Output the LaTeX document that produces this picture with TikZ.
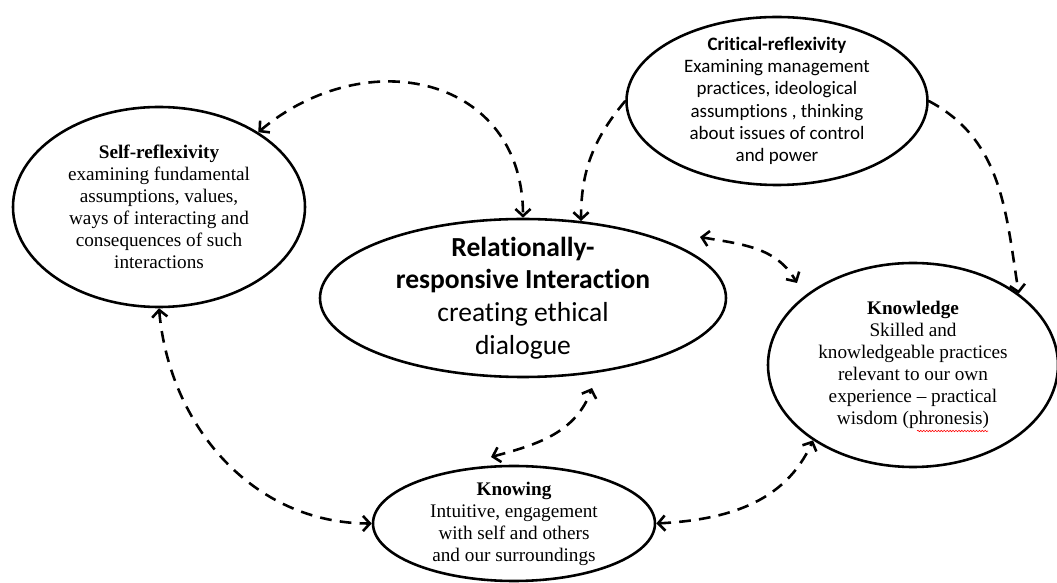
\documentclass[tikz,border=0pt]{standalone}
\usepackage{fontspec}
\setmainfont{Liberation Serif}[Ligatures=NoCommon]
\newfontfamily\calibri{Carlito}[Ligatures=NoCommon]
\usetikzlibrary{shapes}
\usetikzlibrary{positioning}
\usetikzlibrary{arrows.meta}
\usetikzlibrary{decorations.pathmorphing}

\begin{document}
\begin{tikzpicture}[
	line width=2.2pt,
	>={Straight Barb[length=6pt,width=13pt]}
]
\tikzset{
    bubble/.style = {ellipse, draw=black, inner sep=0pt},
    sertext/.style = {align=center, font=\fontsize{16.4}{18.8}\selectfont},
    caltext/.style = {align=center, font=\calibri\fontsize{16.2}{19}\selectfont},
    bigtext/.style = {align=center, font=\calibri\fontsize{23.5}{28}\selectfont},
    link/.style = {dash pattern=on 10pt off 7pt, line width=2.2pt},
    spell/.style = {red, line width=0.5pt, decorate, decoration={snake, amplitude=0.6pt, segment length=2.5pt}}
}
\useasboundingbox (0,0) rectangle (31.71,17.49);
%
\node[bubble, minimum width=8.76cm, minimum height=6.0cm] at (4.77,11.28) (sr) {};
\node[bubble, minimum width=12.18cm, minimum height=4.74cm] at (15.69,8.55) (ctr) {};
\node[bubble, minimum width=9.03cm, minimum height=5.04cm] at (23.31,14.46) (cr) {};
\node[bubble, minimum width=8.7cm, minimum height=6.12cm] at (27.39,6.54) (kn) {};
\node[bubble, minimum width=8.46cm, minimum height=3.45cm] at (15.42,1.785) (kw) {};
%
\node[sertext] at (sr) (srtext) {\textbf{Self-reflexivity}\\ examining fundamental\\ assumptions, values,\\ ways of interacting and\\ consequences of such\\ interactions};
\node[bigtext] at (ctr) (ctrtext) {\textbf{Relationally-}\\ \textbf{responsive Interaction}\\ creating ethical\\ dialogue};
\node[caltext] at (cr) (crtext) {\textbf{Critical-reflexivity}\\ Examining management\\ practices, ideological\\ assumptions , thinking\\ about issues of control\\ and power};
\node[sertext] at (kn) (kntext) {\textbf{Knowledge}\\ Skilled and\\ knowledgeable practices\\ relevant to our own\\ experience -- practical\\ wisdom (phronesis)};
\node[sertext] at (kw) (kwtext) {\textbf{Knowing}\\ Intuitive, engagement\\ with self and others\\ and our surroundings};
% spell-check mark under phronesis
\draw[spell] (27.51,4.56) -- (29.64,4.56);
%
\coordinate (ctrkn) at (21.0,10.38);
\coordinate (knctr) at (23.91,9.0);
\coordinate (kwctr) at (14.73,3.78);
\coordinate (ctrkw) at (17.76,5.85);
%
\draw[link,<->] (sr.37) to[out=40,in=90,looseness=1.3] (ctr.90);
\draw[link,->] (cr.180) to[out=230,in=90] (ctr.53);
\draw[link,->] (cr.0) to[out=-28,in=99] (kn.34);
\draw[link,<->] (ctrkn) to[out=-10,in=120] (knctr);
%
\draw[link,<->] (sr.270) to[out=-85,in=180] (kw.180);
\draw[link,<->] (kwctr) to[out=15,in=-110] (ctrkw);
\draw[link,<->] (kw.0) to[out=3,in=-114] (kn.217);
\end{tikzpicture}
\end{document}
